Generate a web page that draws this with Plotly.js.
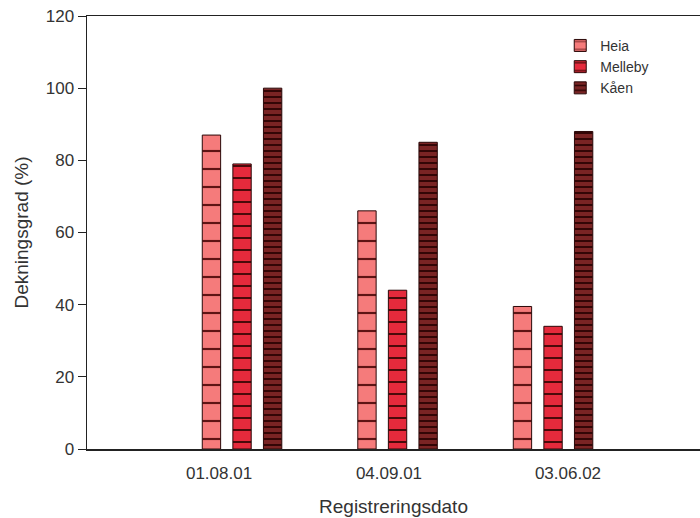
<!DOCTYPE html>
<html>
<head>
<meta charset="utf-8">
<script src="https://cdn.plot.ly/plotly-3.0.1.min.js"></script>
<style>html,body{margin:0;padding:0;background:#fff;}#chart{width:700px;height:518px;}</style>
</head>
<body>
<div id="chart"></div>
<script>
// Data
const categories = ['01.08.01', '04.09.01', '03.06.02'];
const heia = [87, 66, 39.5];
const melleby = [79, 44, 34];
const kaen = [100, 85, 88];
const seriesNames = ['Heia', 'Melleby', 'K\u00e5en'];
const yTicks = [0, 20, 40, 60, 80, 100, 120];

const xIdx = categories.map((c, i) => i);
// label positions differ slightly from bar-group centres in the original
const labelOffsets = [-0.148, -0.055, 0.096];
const tickPos = xIdx.map((v, i) => v + labelOffsets[i]);

const outline = {color: '#2a0808', width: 1};
const traces = [
  {name: seriesNames[0], y: heia, fill: '#f57b7b', fg: '#5e1414', size: 18, sol: 0.12},
  {name: seriesNames[1], y: melleby, fill: '#e52a3c', fg: '#4a0a0a', size: 12, sol: 0.17},
  {name: seriesNames[2], y: kaen, fill: '#7a2424', fg: '#330606', size: 6, sol: 0.33}
].map(s => ({
  type: 'bar',
  name: s.name,
  x: xIdx,
  y: s.y,
  marker: {
    color: s.fill,
    line: outline,
    pattern: {shape: '-', size: s.size, solidity: s.sol, fgcolor: s.fg, bgcolor: s.fill, fillmode: 'replace'}
  },
  hoverinfo: 'skip'
}));

const font = 'Liberation Sans, Arial, Helvetica, sans-serif';
const layout = {
  width: 700, height: 518,
  margin: {l: 87, r: 0, t: 15.5, b: 68.5},
  paper_bgcolor: '#ffffff',
  plot_bgcolor: '#ffffff',
  font: {family: font, color: '#333333'},
  barmode: 'group',
  bargap: 0.41,
  bargroupgap: 0.4,
  showlegend: true,
  legend: {
    x: 0.772, y: 0.968, xanchor: 'left', yanchor: 'top',
    font: {family: font, size: 14, color: '#333333'},
    bgcolor: 'rgba(0,0,0,0)', borderwidth: 0
  },
  xaxis: {
    type: 'linear',
    range: [-0.997, 2.945],
    tickmode: 'array', tickvals: tickPos, ticktext: categories,
    ticks: '', ticklabelstandoff: 8,
    tickfont: {family: font, size: 17, color: '#333333'},
    showgrid: false, zeroline: false,
    showline: true, linecolor: '#222222', linewidth: 1.5, mirror: true,
    title: {text: 'Registreringsdato', font: {family: font, size: 19, color: '#333333'}, standoff: 18},
    automargin: false
  },
  yaxis: {
    range: [0, 120],
    tickmode: 'array', tickvals: yTicks,
    ticks: 'outside', ticklen: 8, tickcolor: '#222222', tickwidth: 1,
    tickfont: {family: font, size: 17, color: '#333333'},
    showgrid: false, zeroline: false,
    showline: true, linecolor: '#222222', linewidth: 1.5, mirror: true,
    title: {text: 'Dekningsgrad (%)', font: {family: font, size: 19, color: '#333333'}, standoff: 12},
    automargin: false
  }
};

Plotly.newPlot('chart', traces, layout, {displayModeBar: false, staticPlot: true});
</script>
</body>
</html>
